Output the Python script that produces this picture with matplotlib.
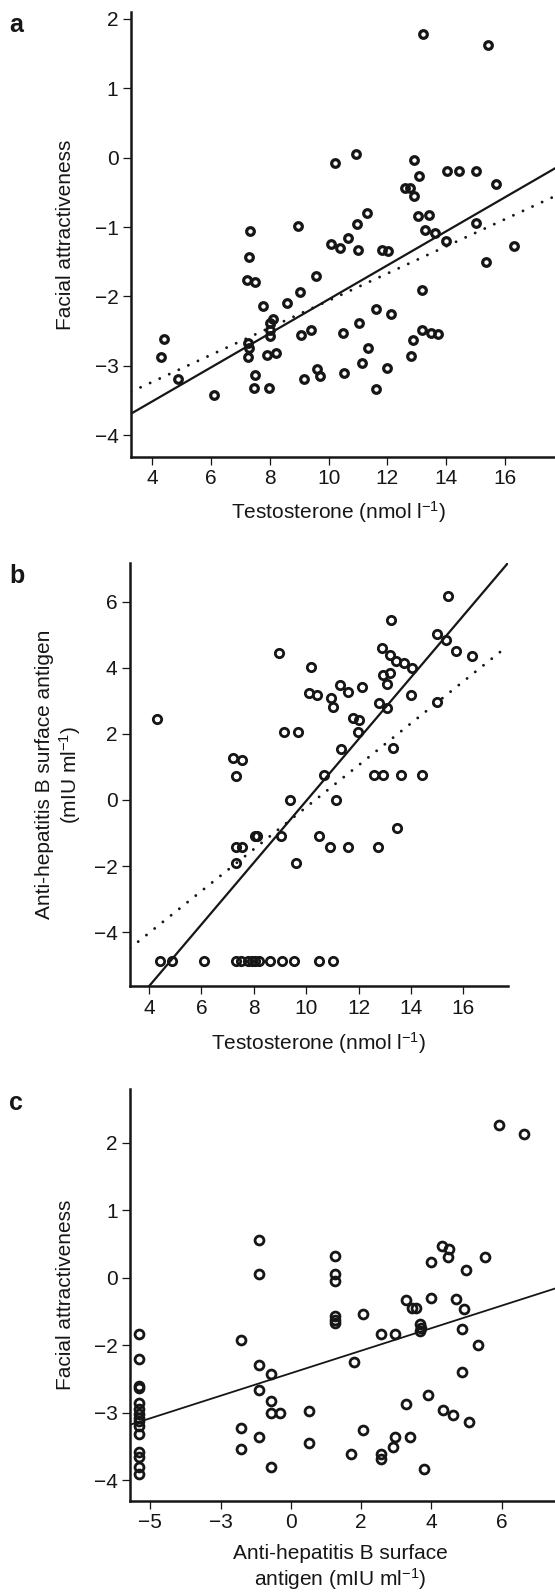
import numpy as np
import matplotlib
matplotlib.use("Agg")
import matplotlib.pyplot as plt

plt.rcParams['font.family'] = ['Liberation Sans', 'DejaVu Sans']
plt.rcParams['mathtext.fontset'] = 'custom'
plt.rcParams['mathtext.rm'] = 'Liberation Sans'
plt.rcParams['mathtext.it'] = 'Liberation Sans:italic'
plt.rcParams['mathtext.bf'] = 'Liberation Sans:bold'

# ---- panel a: testosterone vs facial attractiveness
a_x = [10.21, 10.92, 8.97, 7.32, 7.30, 7.21, 7.49, 11.29, 10.97, 10.07,
       10.67, 10.38, 10.99, 11.80, 12.03, 9.57, 9.02, 8.57, 7.78, 8.10,
       8.00, 8.00, 8.00, 7.27, 7.30, 7.27, 7.89, 8.20, 7.49, 7.47,
       7.98, 6.11, 4.88, 4.41, 4.30, 9.06, 9.39, 9.17, 9.59, 9.70,
       10.48, 10.52, 11.03, 11.35, 11.14, 11.60, 11.61, 12.11, 12.00,
       13.22, 15.41, 12.90, 13.08, 14.01, 14.43, 15.00, 15.71, 12.60, 12.77,
       12.90, 13.03, 13.41, 13.28, 13.62, 13.98, 15.00, 16.31, 15.34, 13.18,
       13.16, 13.48, 13.73, 12.88, 12.79]
a_y = [-0.07, 0.05, -0.98, -1.06, -1.43, -1.77, -1.79, -0.80, -0.96, -1.24,
       -1.16, -1.30, -1.33, -1.33, -1.34, -1.70, -1.93, -2.10, -2.14, -2.32,
       -2.38, -2.49, -2.57, -2.67, -2.75, -2.88, -2.84, -2.81, -3.13, -3.32,
       -3.32, -3.42, -3.19, -2.62, -2.88, -2.55, -2.48, -3.19, -3.04, -3.14,
       -2.53, -3.11, -2.38, -2.75, -2.96, -3.34, -2.18, -2.25, -3.03,
       1.78, 1.63, -0.03, -0.27, -0.19, -0.19, -0.19, -0.38, -0.43, -0.44,
       -0.55, -0.84, -0.83, -1.04, -1.09, -1.20, -0.94, -1.27, -1.51, -1.90,
       -2.48, -2.53, -2.54, -2.63, -2.86]
a_fit_solid = (-4.495, 0.2453)   # intercept, slope
a_fit_dotted = (-4.016, 0.1956)

# ---- panel b: testosterone vs anti-HBs
b_x = [4.32, 9.16, 9.70, 7.22, 7.54, 7.31, 10.12, 10.42, 10.95, 11.01,
       11.29, 11.58, 12.12, 11.80, 12.03, 11.99, 11.32, 10.68, 9.38, 11.14,
       8.05, 8.13, 9.03, 7.31, 7.54, 7.31, 9.60, 10.49, 10.91, 11.61,
       12.73, 12.60, 12.92, 12.79, 13.07,
       4.42, 4.87, 6.11, 7.32, 7.50, 7.79, 7.92, 8.05, 8.21, 8.62,
       9.09, 9.55, 10.50, 11.01,
       13.24, 15.42, 15.00, 15.36, 15.72, 16.32, 12.88, 13.20, 13.43, 13.73,
       14.03, 12.94, 13.20, 13.10, 13.99, 15.00, 13.30, 13.61, 14.41, 13.48,
       8.98, 10.20]
b_y = [2.45, 2.07, 2.07, 1.28, 1.21, 0.73, 3.25, 3.18, 3.08, 2.81,
       3.48, 3.28, 3.43, 2.47, 2.42, 2.07, 1.55, 0.74, 0.00, 0.00,
       -1.08, -1.08, -1.08, -1.41, -1.41, -1.92, -1.92, -1.08, -1.41, -1.41,
       -1.41, 0.74, 0.74, 2.93, 2.78,
       -4.87, -4.87, -4.87, -4.87, -4.87, -4.87, -4.87, -4.87, -4.87, -4.87,
       -4.87, -4.87, -4.87, -4.87,
       5.45, 6.16, 5.03, 4.85, 4.52, 4.37, 4.60, 4.39, 4.21, 4.14,
       3.99, 3.79, 3.84, 3.51, 3.18, 2.95, 1.57, 0.74, 0.74, -0.84,
       4.44, 4.01]
b_fit_solid = (-9.37, 0.934)
b_fit_dotted = (-6.56, 0.634)

# ---- panel c: anti-HBs vs facial attractiveness
# values in tick-slot units; the printed tick labels are kept as in the figure
c_xticks = [-4, -2, 0, 2, 4, 6]
c_xticklabels = ['\u22125', '\u22123', '0', '2', '4', '6']
c_yticks = [-3, -2, -1, 0, 1, 2]
c_yticklabels = ['\u22124', '\u22123', '\u22122', '0', '1', '2']
c_x = [-4.32] * 15 + [
       -0.90, -0.90, 1.25, 1.25, 1.25, 1.25, 1.25, 1.25, 2.06, -1.42,
       -0.90, -0.57, -0.90, -0.57, -0.57, -0.31, 0.51, 1.80, -1.42, -1.42,
       -0.90, -0.57, 0.51, 2.06, 1.71,
       2.57, 2.97, 3.68, 3.68, 3.70, 4.86, 5.32, 4.86, 3.91, 3.27,
       4.33, 4.63, 5.06, 3.40, 2.97, 2.90, 2.57, 2.57, 3.78, 5.92,
       6.63, 4.29, 4.49, 3.99, 4.46, 5.52, 4.99, 3.28, 3.45, 3.56,
       3.98, 4.71, 4.94]
c_y = [-0.83, -1.20, -1.60, -1.64, -1.85, -1.95, -2.02, -2.08, -2.13, -2.20,
       -2.32, -2.58, -2.66, -2.81, -2.91,
       0.56, 0.06, 0.32, 0.06, -0.05, -0.56, -0.62, -0.67, -0.53, -0.92,
       -1.29, -1.42, -1.67, -1.82, -2.01, -2.01, -1.97, -1.25, -2.23, -2.54,
       -2.36, -2.81, -2.45, -2.25, -2.61,
       -0.83, -0.83, -0.69, -0.79, -0.74, -0.76, -1.00, -1.40, -1.74, -1.87,
       -1.96, -2.04, -2.14, -2.36, -2.36, -2.51, -2.61, -2.69, -2.83, 2.27,
       2.13, 0.47, 0.43, 0.24, 0.31, 0.31, 0.12, -0.33, -0.45, -0.45,
       -0.30, -0.32, -0.47]
c_fit_solid = (-1.415, 0.167)

W, H = 555, 1593
INK = '#161616'
FS = 15
fig = plt.figure(figsize=(W / 100, H / 100), dpi=100)


def px_axes(left, top, right, bottom):
    return fig.add_axes([left / W, 1 - bottom / H, (right - left) / W, (bottom - top) / H])


def style(ax):
    for s in ['top', 'right']:
        ax.spines[s].set_visible(False)
    for s in ['left', 'bottom']:
        ax.spines[s].set_linewidth(1.8)
        ax.spines[s].set_color(INK)
    ax.tick_params(direction='out', length=5.5, width=0.9, pad=3.5,
                   labelsize=FS, colors=INK)


def circles(ax, x, y, ms=6.0, mew=1.8):
    ax.plot(x, y, 'o', ms=ms, mfc='none', mec=INK, mew=mew, ls='none', zorder=3)


dot_style = dict(color=INK, lw=2.1, ls=(0, (0.01, 3.6)), dash_capstyle='round')

# panel a
ax1 = px_axes(131, 12, 555, 456.7)
style(ax1)
circles(ax1, a_x, a_y, ms=5.5, mew=2.3)
ax1.axline((0, a_fit_solid[0]), slope=a_fit_solid[1], color=INK, lw=1.6)
ax1.axline((0, a_fit_dotted[0]), slope=a_fit_dotted[1], **dot_style)
ax1.set_xlim(3.28, 17.7)
ax1.set_ylim(-4.31, 2.1)
ax1.set_xticks([4, 6, 8, 10, 12, 14, 16])
ax1.set_yticks([-4, -3, -2, -1, 0, 1, 2])
ax1.set_xlabel('Testosterone (nmol l$^{-1}$)', fontsize=FS, color=INK)
ax1.set_ylabel('Facial attractiveness', fontsize=FS, color=INK)
ax1.xaxis.set_label_coords(0.49, -0.095)
ax1.yaxis.set_label_coords(-0.132, 0.5)

# panel b
ax2 = px_axes(130, 563, 508, 986)
style(ax2)
circles(ax2, b_x, b_y, ms=6.0, mew=2.0)
ax2.axline((0, b_fit_solid[0]), slope=b_fit_solid[1], color=INK, lw=1.6)
ax2.axline((0, b_fit_dotted[0]), slope=b_fit_dotted[1], **dot_style)
ax2.set_xlim(3.27, 17.71)
ax2.set_ylim(-5.63, 7.17)
ax2.set_xticks([4, 6, 8, 10, 12, 14, 16])
ax2.set_yticks([-4, -2, 0, 2, 4, 6])
ax2.set_xlabel('Testosterone (nmol l$^{-1}$)', fontsize=FS, color=INK)
ax2.set_ylabel('Anti-hepatitis B surface antigen\n(mIU ml$^{-1}$)', fontsize=FS,
               color=INK, linespacing=1.15)
ax2.xaxis.set_label_coords(0.5, -0.105)
ax2.yaxis.set_label_coords(-0.124, 0.5)

# panel c
ax3 = px_axes(130, 1089, 555, 1501)
style(ax3)
circles(ax3, c_x, c_y, ms=6.4, mew=2.0)
ax3.axline((0, c_fit_solid[0]), slope=c_fit_solid[1], color=INK, lw=1.3)
ax3.set_xlim(-4.58, 7.52)
ax3.set_ylim(-3.31, 2.8)
ax3.set_xticks(c_xticks)
ax3.set_xticklabels(c_xticklabels)
ax3.set_yticks(c_yticks)
ax3.set_yticklabels(c_yticklabels)
ax3.set_xlabel('Anti-hepatitis B surface\nantigen (mIU ml$^{-1}$)', fontsize=FS,
               color=INK, linespacing=1.15)
ax3.set_ylabel('Facial attractiveness', fontsize=FS, color=INK)
ax3.xaxis.set_label_coords(0.495, -0.105)
ax3.yaxis.set_label_coords(-0.129, 0.5)

# panel letters
for letter, ypx in [('a', 32), ('b', 583), ('c', 1110)]:
    fig.text(9 / W, 1 - ypx / H, letter, fontsize=18, fontweight='bold',
             color=INK, ha='left', va='baseline')

fig.savefig('out.png', dpi=100)
